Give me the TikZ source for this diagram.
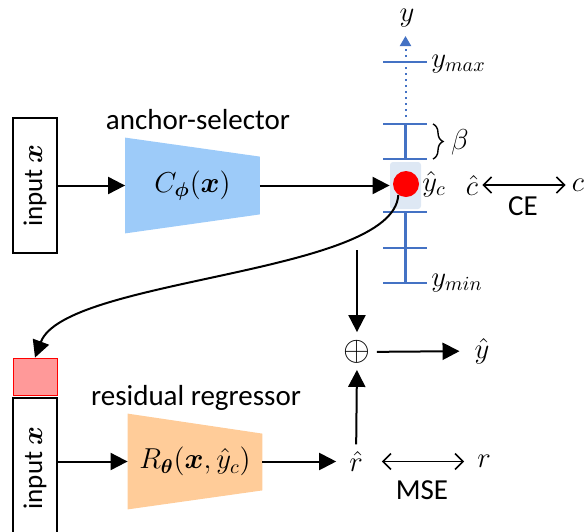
\documentclass[tikz,border=0pt]{standalone}
\usepackage{fontspec}
\setmainfont{Carlito}
\usepackage{amsmath}
\usepackage{bm}
\usetikzlibrary{arrows.meta,decorations.pathreplacing,backgrounds}
\definecolor{selblue}{HTML}{9DCBF9}
\definecolor{regorange}{HTML}{FFCC99}
\definecolor{axisblue}{HTML}{4472C4}
\definecolor{hlblue}{HTML}{DEE8F4}
\definecolor{anchorred}{HTML}{FF9999}
\begin{document}
\begin{tikzpicture}[x=0.5pt,y=-0.5pt,>={Triangle[length=8.5pt,width=8.5pt]},
  font=\fontsize{14.5}{17}\selectfont,
  inbox/.style={rectangle,draw=black,line width=1pt,fill=white,minimum width=22pt,inner sep=0pt,font=\fontsize{13.5}{16}\selectfont},
  net/.style={rectangle,minimum width=67pt,minimum height=47.5pt,inner sep=0pt},
  flow/.style={->,line width=1pt},
  loss/.style={{Straight Barb[length=4pt,width=8pt]}-{Straight Barb[length=4pt,width=8pt]},line width=0.8pt},
  tickline/.style={axisblue,line width=1.1pt}]
\useasboundingbox (0,0) rectangle (584,531);
% inputs
\node[inbox,minimum height=67.5pt] (in1) at (35,185.5) {\rotatebox{90}{input $\bm{x}$}};
\node[inbox,minimum height=70pt] (in2) at (35,468) {\rotatebox{90}{input $\bm{x}$}};
\node[rectangle,draw=red,fill=anchorred,minimum width=22pt,minimum height=18.5pt,inner sep=0pt] (anc) at (35,376.5) {};
% networks
\node[net] (sel) at (192.5,185.5) {$C_{\bm{\phi}}(\bm{x})$};
\node (selname) at (198,120) {anchor-selector};
\node[net] (reg) at (195,461.5) {$R_{\bm{\theta}}(\bm{x},\hat{y}_c)$};
\node (regname) at (196,398) {residual regressor};
\begin{scope}[on background layer]
  \fill[selblue] (sel.north west) -- ([yshift=-9.5pt]sel.north east) -- ([yshift=9.5pt]sel.south east) -- (sel.south west) -- cycle;
  \fill[regorange] (reg.north west) -- ([yshift=-10pt]reg.north east) -- ([yshift=9.5pt]reg.south east) -- (reg.south west) -- cycle;
\end{scope}
% axis of anchors
\foreach \t in {62,124,159,212,248,283}
  \draw[tickline] (383,\t) -- (427,\t);
\draw[tickline] (405.5,124) -- (405.5,159);
\draw[tickline] (405.5,212) -- (405.5,283);
\draw[axisblue,line width=1pt,dotted,-{Triangle[length=5pt,width=5.5pt]}] (405.5,117) -- (405.5,36);
\node (ylab) at (407,18) {$y$};
\node[anchor=west,inner sep=1pt] (ymax) at (429,64) {$y_{max}$};
\node[anchor=west,inner sep=1pt] (ymin) at (429,283) {$y_{min}$};
\draw[decorate,decoration={brace,amplitude=5pt},line width=0.7pt] (433,124) -- (433,159);
\node (beta) at (460,142) {$\beta$};
\node[rectangle,fill=hlblue,rounded corners=1.5pt,minimum width=15.5pt,minimum height=23.5pt,inner sep=0pt] (hl) at (405.5,185.5) {};
\node[circle,fill=red,minimum size=13pt,inner sep=0pt] (dot) at (406,184) {};
\node (yc) at (434,184) {$\hat{y}_c$};
% classification loss
\node[inner sep=1pt] (chat) at (472,185) {$\hat{c}$};
\node[inner sep=1pt] (cc) at (578,185) {$c$};
\draw[loss,shorten <=1pt,shorten >=2pt] (chat) -- (cc);
\node (ce) at (523,206) {CE};
% sum and regression loss
\coordinate (dn) at (357,250);
\node[inner sep=0pt,font=\fontsize{19}{19}\selectfont] (plus) at (357,352) {$\oplus$};
\node (yhat) at (482,351) {$\hat{y}$};
\node (rhat) at (356,461.5) {$\hat{r}$};
\node (rr) at (484,461.5) {$r$};
\node (mse) at (422,490) {MSE};
% connectors
\draw[flow] (in1.east) -- (sel.west);
\draw[flow] (sel.east) -- (hl.west);
\draw[flow] (dot.-125) .. controls +(-5,80) and +(30,-80) .. (anc.north);
\draw[flow] (in2.east |- reg.west) -- (reg.west);
\draw[flow,shorten >=3pt] (reg.east) -- (rhat);
\draw[flow,shorten >=4pt] (dn) -- (plus.north);
\draw[flow,shorten >=3pt] (rhat) -- (plus.south);
\draw[flow,shorten <=3pt,shorten >=4pt] (plus) -- (yhat);
\draw[loss,shorten <=6pt,shorten >=3pt] (rhat) -- (rr);
\end{tikzpicture}
\end{document}
